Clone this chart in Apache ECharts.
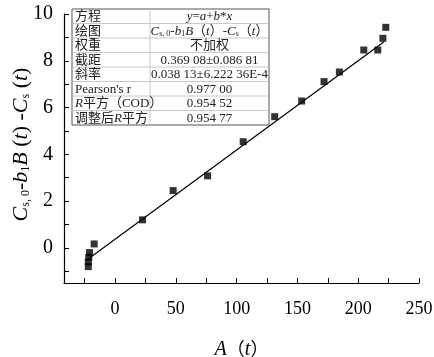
<!DOCTYPE html>
<html><head><meta charset="utf-8">
<script src="https://cdn.jsdelivr.net/npm/echarts@6/dist/echarts.min.js"></script>
<style>html,body{margin:0;padding:0;background:#fff;}#c{width:434px;height:357px;}</style>
</head><body><div id="c"></div>
<script>
const xData = [-22, -22, -21.6, -21, -17.2, 22.6, 47.8, 76.1, 105.4, 131.3, 153.5, 171.9, 184.5, 204.6, 216.1, 220.3, 222.7];
const yData = [-0.8, -0.6, -0.4, -0.2, 0.17, 1.2, 2.45, 3.08, 4.54, 5.61, 6.28, 7.11, 7.52, 8.46, 8.46, 8.96, 9.43];
const fitX = [-21, 221];
const fitY = [-0.43, 8.8];
const xTickLabels = [0, 50, 100, 150, 200, 250];
const xTicks = [-25, 0, 25, 50, 75, 100, 125, 150, 175, 200, 225, 250];
const yTickLabels = [0, 2, 4, 6, 8, 10];
const yTicks = [-1, 0, 1, 2, 3, 4, 5, 6, 7, 8, 9, 10];
const tableLabels = ['方程', '绘图', '权重', '截距', '斜率', "Pearson's r", '{i|R}平方（COD）', '调整后{i|R}平方'];
const tableValues = ['{i|y}={i|a}+{i|b}*{i|x}', '{i|C}{sub|s, 0}-{i|b}{sub|1}{i|B}（{i|t}）-{i|C}{sub|s}（{i|t}）', '不加权', '0.369 08±0.086 81', '0.038 13±6.222 36E-4', '0.977 00', '0.954 52', '0.954 77'];

const FF = "'Liberation Serif', 'Noto Sans CJK SC', serif";
const chart = echarts.init(document.getElementById('c'));
const pts = xData.map((x, i) => [x, yData[i]]);
const fit = fitX.map((x, i) => [x, fitY[i]]);

const tLeft = 72, tTop = 9, tRight = 269, tDiv = 150, rowH = 14.5;
const rich = {
  i: { fontStyle: 'italic', fontFamily: FF, fontSize: 13 },
  sub: { fontFamily: FF, fontSize: 8, verticalAlign: 'bottom', padding: [6, 0, 0, 0] }
};
const graphics = [];
graphics.push({ type: 'rect', shape: { x: tLeft, y: tTop, width: tRight - tLeft, height: rowH * tableLabels.length }, style: { fill: '#fff', stroke: '#555', lineWidth: 1 }, z: 10 });
for (let i = 1; i < tableLabels.length; i++) {
  graphics.push({ type: 'line', shape: { x1: tLeft + 1, y1: tTop + i * rowH, x2: tRight - 1, y2: tTop + i * rowH }, style: { stroke: '#c8c8c8', lineWidth: 1 }, z: 11 });
}
graphics.push({ type: 'line', shape: { x1: tDiv, y1: tTop, x2: tDiv, y2: tTop + rowH * tableLabels.length }, style: { stroke: '#c8c8c8', lineWidth: 1 }, z: 11 });
tableLabels.forEach((t, i) => {
  graphics.push({ type: 'text', x: tLeft + 3, y: tTop + i * rowH + rowH / 2 + 0.5, z: 12,
    style: { text: t, fontFamily: FF, fontSize: 13, fill: '#222', align: 'left', verticalAlign: 'middle', rich: rich } });
});
tableValues.forEach((t, i) => {
  graphics.push({ type: 'text', x: (tDiv + tRight) / 2, y: tTop + i * rowH + rowH / 2 + 0.5, z: 12,
    style: { text: t, fontFamily: FF, fontSize: 13, fill: '#222', align: 'center', verticalAlign: 'middle', rich: rich } });
});

const yRich = {
  i: { fontStyle: 'italic', fontFamily: FF, fontSize: 22, color: '#000' },
  n: { fontFamily: FF, fontSize: 22, color: '#000' },
  p: { fontFamily: FF, fontSize: 22, color: '#000' },
  sub: { fontFamily: FF, fontSize: 12, color: '#000', verticalAlign: 'bottom', padding: [10, 0, 0, 0] }
};

chart.setOption({
  animation: false,
  backgroundColor: '#fff',
  grid: { left: 64, right: 15, top: 14, bottom: 74, containLabel: false, outerBoundsMode: 'none' },
  xAxis: {
    type: 'value', min: -42, max: 250,
    axisLine: { show: true, onZero: false, lineStyle: { color: '#000', width: 1.2 } },
    axisTick: { show: true, inside: true, length: 5, customValues: xTicks, lineStyle: { color: '#000' } },
    axisLabel: { customValues: xTickLabels, fontFamily: FF, fontSize: 18, color: '#000', margin: 17 },
    splitLine: { show: false },
    name: '{i|A}{n|（}{i|t}{n|）}', nameLocation: 'middle', nameGap: 57, nameMoveOverlap: false,
    nameTextStyle: { rich: { i: { fontStyle: 'italic', fontFamily: FF, fontSize: 20, color: '#000' }, n: { fontFamily: FF, fontSize: 18, color: '#000' } } }
  },
  yAxis: {
    type: 'value', min: -1.5, max: 10,
    axisLine: { show: true, onZero: false, lineStyle: { color: '#000', width: 1.2 } },
    axisTick: { show: true, inside: true, length: 5, customValues: yTicks, lineStyle: { color: '#000' } },
    axisLabel: { customValues: yTickLabels, fontFamily: FF, fontSize: 20, color: '#000', margin: 11 },
    splitLine: { show: false },
    name: '{i|C}{sub|s, 0}{n|-}{i|b}{sub|1}{i|B}{p| (}{i|t}{p|) -}{i|C}{sub|s}{p| (}{i|t}{p|)}',
    nameLocation: 'middle', nameGap: 32, nameRotate: 90, nameMoveOverlap: false,
    nameTextStyle: { rich: yRich, padding: [0, 0, 0, 8] }
  },
  series: [
    { type: 'line', data: fit, symbol: 'none', lineStyle: { color: '#000', width: 1.2 }, z: 2 },
    { type: 'scatter', data: pts, symbol: 'rect', symbolSize: 7, itemStyle: { color: '#000' }, z: 3 }
  ],
  graphic: graphics
});
</script>
</body></html>
